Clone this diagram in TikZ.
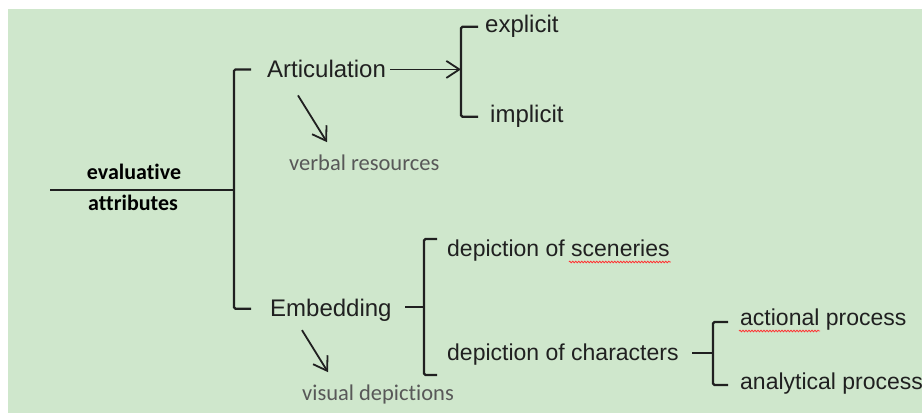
\documentclass[tikz,border=0pt]{standalone}
\usepackage{fontspec}
\setmainfont{Liberation Sans}
\newfontfamily\calfont[Ligatures=NoCommon]{Carlito}
\usepackage{xcolor}
\usetikzlibrary{arrows.meta,positioning,calc,decorations.pathmorphing}
\definecolor{bggreen}{RGB}{207,231,204}
\definecolor{inkdark}{RGB}{32,32,32}
\definecolor{notegray}{RGB}{88,88,88}

\begin{document}
\begin{tikzpicture}[
  x=1pt, y=-1pt,
  lbl/.style={inner sep=0pt, anchor=base west, text=inkdark,
              font=\fontsize{24}{28}\selectfont},
  sub/.style={lbl, font=\fontsize{23}{27}\selectfont},
  note/.style={inner sep=0pt, anchor=base west, text=notegray,
               font=\calfont\fontsize{22.5}{26}\selectfont},
  root/.style={inner sep=0pt, anchor=base, text=black,
               font=\calfont\bfseries\fontsize{22}{26}\selectfont},
  brace/.style={line width=2.2pt, rounded corners=1.5pt, draw=inkdark},
  ar/.style={-{Straight Barb[length=13pt, width=17pt]}, line width=1.8pt, draw=inkdark},
  spell/.style={red!80!white, line width=0.8pt, decorate,
                decoration={snake, amplitude=0.8pt, segment length=3pt}}
]
  \useasboundingbox (0,0) rectangle (922,414);
  \fill[white] (0,0) rectangle (922,414);
  \fill[bggreen] (8,9) rectangle (922,413);

  % texts
  \node[root] (eval) at (134,180) {evaluative};
  \node[root] (attr) at (133,211) {attributes};
  \node[lbl] (artic) at (267,78) {Articulation};
  \node[lbl] (embed) at (270,317) {Embedding};
  \node[lbl] (expl) at (485,33) {explicit};
  \node[lbl] (impl) at (490,123) {implicit};
  \node[note] (verbal) at (289,171) {verbal resources};
  \node[note] (visual) at (302,400) {visual depictions};
  \node[sub] (scen) at (447,257) {depiction of sceneries};
  \node[sub] (chars) at (447,360) {depiction of characters};
  \node[sub] (action) at (740,326) {actional process};
  \node[sub] (analyt) at (740,389) {analytical process};

  % brace tips
  \coordinate (lead) at (50,190);
  \coordinate (tipA) at (234,190);
  \coordinate (tipB) at (461,70);
  \coordinate (tipC) at (424,307);
  \coordinate (tipD) at (713,353);

  % main brace
  \draw[brace] (lead) -- (tipA);
  \draw[brace] ([xshift=-16pt]artic.west) -- (artic.west -| tipA)
    -- ($(tipA |- embed.west)+(0,-2)$) -- ($(embed.west)+(-19,-2)$);

  % articulation
  \draw[ar] ([xshift=4pt]artic.east) -- (artic.east -| tipB);
  \draw[brace] ([xshift=-7pt]expl.west) -- (expl.west -| tipB)
    -- (impl.west -| tipB) -- ([xshift=-12pt]impl.west);
  \draw[ar] ($(artic.south west)+(31,17)$) -- ($(verbal.north west)+(38,-13)$);

  % embedding
  \draw[brace] ($(tipC)+(-19,0)$) -- (tipC);
  \draw[brace] ($(tipC)+(13,-68)$) -- ($(tipC)+(0,-68)$)
    -- ($(tipC)+(0,68)$) -- ($(tipC)+(13,68)$);
  \draw[ar] ($(embed.south west)+(32,8)$) -- ($(visual.north west)+(26,-12)$);

  % characters
  \draw[brace] ($(tipD)+(-21,0)$) -- (tipD);
  \draw[brace] ($(tipD)+(15,-31)$) -- ($(tipD)+(0,-31)$)
    -- ($(tipD)+(0,32)$) -- ($(tipD)+(15,32)$);

  % spell-check marks
  \draw[spell] ($(scen.base east)+(-101,5)$) -- ($(scen.base east)+(1,5)$);
  \draw[spell] ($(action.base west)+(-1,5)$) -- ($(action.base west)+(80,5)$);
\end{tikzpicture}
\end{document}
